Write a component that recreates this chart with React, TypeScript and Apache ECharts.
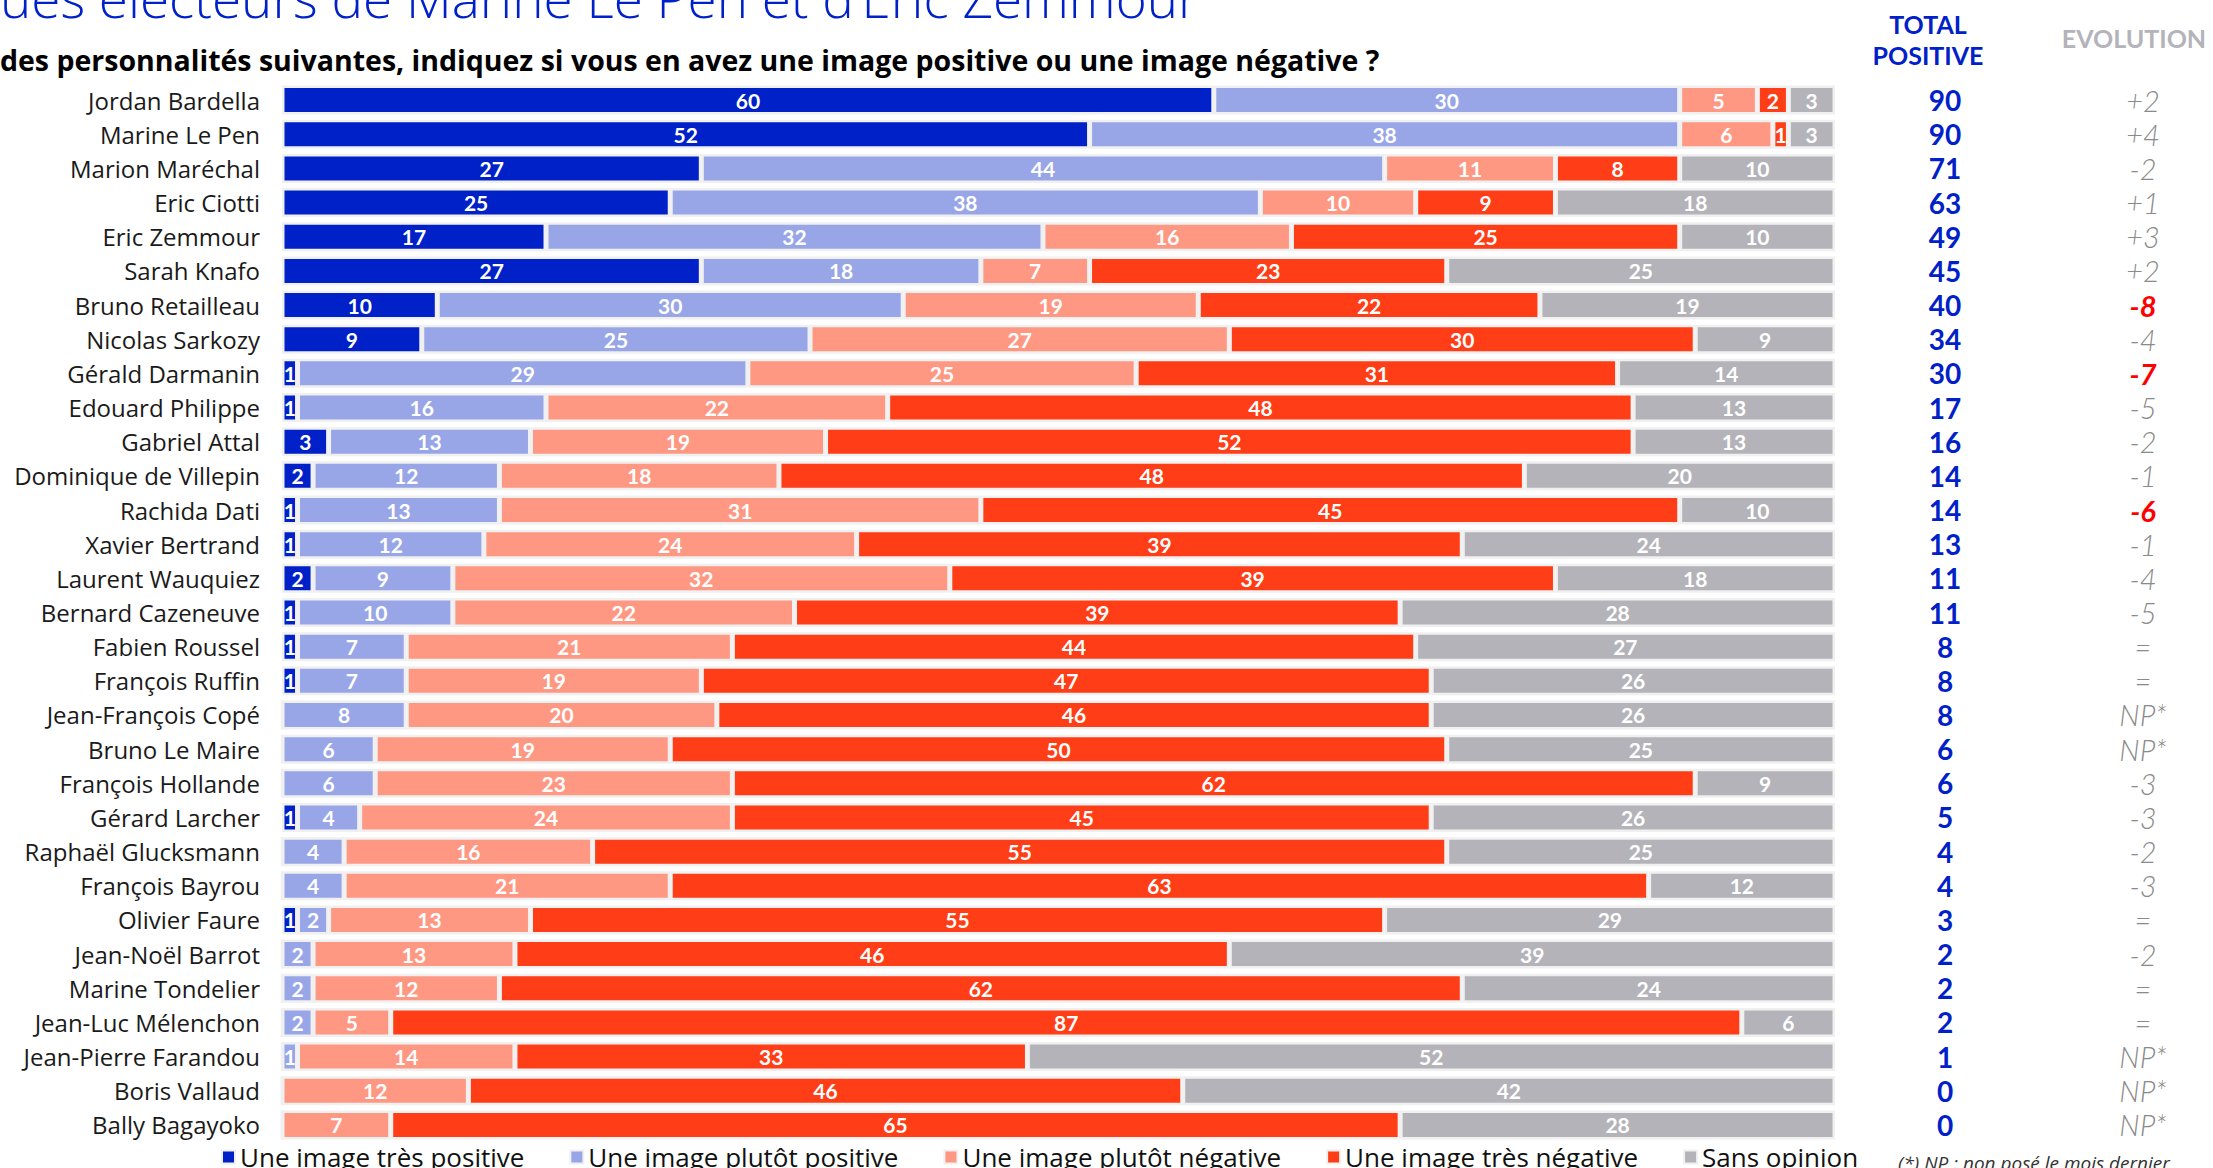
import React, { useEffect, useRef } from "react";
import * as echarts from "echarts";

const names = [
  "Jordan Bardella", "Marine Le Pen", "Marion Maréchal", "Eric Ciotti", "Eric Zemmour",
  "Sarah Knafo", "Bruno Retailleau", "Nicolas Sarkozy", "Gérald Darmanin", "Edouard Philippe",
  "Gabriel Attal", "Dominique de Villepin", "Rachida Dati", "Xavier Bertrand", "Laurent Wauquiez",
  "Bernard Cazeneuve", "Fabien Roussel", "François Ruffin", "Jean-François Copé", "Bruno Le Maire",
  "François Hollande", "Gérard Larcher", "Raphaël Glucksmann", "François Bayrou", "Olivier Faure",
  "Jean-Noël Barrot", "Marine Tondelier", "Jean-Luc Mélenchon", "Jean-Pierre Farandou", "Boris Vallaud",
  "Bally Bagayoko",
];
const tresPositive = [60, 52, 27, 25, 17, 27, 10, 9, 1, 1, 3, 2, 1, 1, 2, 1, 1, 1, 0, 0, 0, 1, 0, 0, 1, 0, 0, 0, 0, 0, 0];
const plutotPositive = [30, 38, 44, 38, 32, 18, 30, 25, 29, 16, 13, 12, 13, 12, 9, 10, 7, 7, 8, 6, 6, 4, 4, 4, 2, 2, 2, 2, 1, 0, 0];
const plutotNegative = [5, 6, 11, 10, 16, 7, 19, 27, 25, 22, 19, 18, 31, 24, 32, 22, 21, 19, 20, 19, 23, 24, 16, 21, 13, 13, 12, 5, 14, 12, 7];
const tresNegative = [2, 1, 8, 9, 25, 23, 22, 30, 31, 48, 52, 48, 45, 39, 39, 39, 44, 47, 46, 50, 62, 45, 55, 63, 55, 46, 62, 87, 33, 46, 65];
const sansOpinion = [3, 3, 10, 18, 10, 25, 19, 9, 14, 13, 13, 20, 10, 24, 18, 28, 27, 26, 26, 25, 9, 26, 25, 12, 29, 39, 24, 6, 52, 42, 28];
const totalPositive = [90, 90, 71, 63, 49, 45, 40, 34, 30, 17, 16, 14, 14, 13, 11, 11, 8, 8, 8, 6, 6, 5, 4, 4, 3, 2, 2, 2, 1, 0, 0];
const evolution = ["+2", "+4", "-2", "+1", "+3", "+2", "-8", "-4", "-7", "-5", "-2", "-1", "-6", "-1", "-4", "-5", "=", "=", "NP*", "NP*", "-3", "-3", "-2", "-3", "=", "-2", "=", "=", "NP*", "NP*", "NP*"];
const evolutionHighlighted = ["Bruno Retailleau", "Gérald Darmanin", "Rachida Dati"];

const seriesNames = [
  "Une image très positive",
  "Une image plutôt positive",
  "Une image plutôt négative",
  "Une image très négative",
  "Sans opinion",
];
const seriesColors = ["#0021c8", "#98a6e8", "#ff9883", "#ff3d16", "#b4b3b9"];

const FONT = "Lato, 'Noto Sans', sans-serif";
const WIDE = "'Open Sans', 'Noto Sans', sans-serif";

export default function App() {
  const ref = useRef<HTMLDivElement>(null);
  useEffect(() => {
    if (!ref.current) return;
    const chart = echarts.init(ref.current, undefined, { renderer: "svg" });
    const seriesData = [tresPositive, plutotPositive, plutotNegative, tresNegative, sansOpinion];
    const catAxisBase = {
      type: "category" as const,
      data: names,
      inverse: true,
      axisLine: { show: false },
      axisTick: { show: false },
      splitLine: { show: false },
    };
    chart.setOption({
      animation: false,
      backgroundColor: "#ffffff",
      textStyle: { fontFamily: FONT },
      grid: { left: 282, right: 378, top: 83, height: 1059 },
      xAxis: { type: "value", min: 0, max: 100, show: false },
      yAxis: [
        {
          ...catAxisBase,
          position: "left",
          axisLabel: { interval: 0, fontSize: 24, color: "#1a1a1a", margin: 22, fontFamily: WIDE },
        },
        {
          ...catAxisBase,
          position: "right",
          axisLabel: {
            interval: 0,
            margin: 110,
            align: "center",
            fontSize: 28,
            fontWeight: "bold",
            color: "#0021c8",
            fontFamily: FONT,
            formatter: (_v: string, i: number) => String(totalPositive[i]),
          },
        },
        {
          ...catAxisBase,
          position: "right",
          axisLabel: {
            interval: 0,
            margin: 308,
            align: "center",
            fontFamily: FONT,
            formatter: (v: string, i: number) =>
              evolutionHighlighted.indexOf(v) >= 0 ? `{r|${evolution[i]}}` : `{g|${evolution[i]}}`,
            rich: {
              r: { fontSize: 29, fontWeight: "bold", fontStyle: "italic", color: "#ff0000", fontFamily: FONT },
              g: { fontSize: 29, fontWeight: 300, fontStyle: "italic", color: "#8a8a8a", fontFamily: FONT },
            },
          },
        },
      ],
      legend: {
        data: seriesNames,
        left: 216,
        top: 1139,
        icon: "rect",
        itemWidth: 13,
        itemHeight: 13,
        itemGap: 45,
        textStyle: { fontSize: 26, color: "#111111", fontFamily: WIDE },
      },
      series: seriesNames.map((n, k) => ({
        name: n,
        type: "bar",
        stack: "total",
        yAxisIndex: 0,
        barWidth: 29,
        data: seriesData[k],
        itemStyle: { color: seriesColors[k], borderColor: "#f0f0f0", borderWidth: 2.5 },
        label: {
          show: true,
          position: "inside",
          color: "#ffffff",
          fontSize: 21,
          fontWeight: "bold",
          fontFamily: FONT,
          formatter: (p: any) => (p.value > 0 ? String(p.value) : ""),
        },
      })),
      graphic: [
        {
          type: "text",
          x: 0,
          y: -3,
          style: {
            text: "ues électeurs de Marine Le Pen et d’Eric Zemmour",
            fontSize: 53,
            fontWeight: 300,
            fontFamily: WIDE,
            fill: "#0021c8",
            verticalAlign: "middle",
          },
        },
        {
          type: "text",
          x: 0,
          y: 60,
          style: {
            text: "des personnalités suivantes, indiquez si vous en avez une image positive ou une image négative ?",
            fontSize: 28.5,
            fontWeight: "bold",
            fontFamily: WIDE,
            fill: "#000000",
            verticalAlign: "middle",
          },
        },
        {
          type: "text",
          x: 1928,
          y: 24,
          style: { text: "TOTAL", fontSize: 25, fontWeight: "bold", fontFamily: FONT, fill: "#0021c8", align: "center", verticalAlign: "middle" },
        },
        {
          type: "text",
          x: 1928,
          y: 55,
          style: { text: "POSITIVE", fontSize: 25, fontWeight: "bold", fontFamily: FONT, fill: "#0021c8", align: "center", verticalAlign: "middle" },
        },
        {
          type: "text",
          x: 2134,
          y: 38,
          style: { text: "EVOLUTION", fontSize: 25, fontWeight: "bold", fontFamily: FONT, fill: "#b4b3b9", align: "center", verticalAlign: "middle" },
        },
        {
          type: "text",
          x: 1898,
          y: 1163,
          style: { text: "(*) NP : non posé le mois dernier", fontSize: 19, fontStyle: "italic", fontFamily: WIDE, fill: "#333333", verticalAlign: "middle" },
        },
      ],
    });
    return () => chart.dispose();
  }, []);
  return (
    <div
      ref={ref}
      style={{ position: "fixed", left: 0, top: 0, width: 2213, height: 1168, background: "#fff" }}
    />
  );
}
